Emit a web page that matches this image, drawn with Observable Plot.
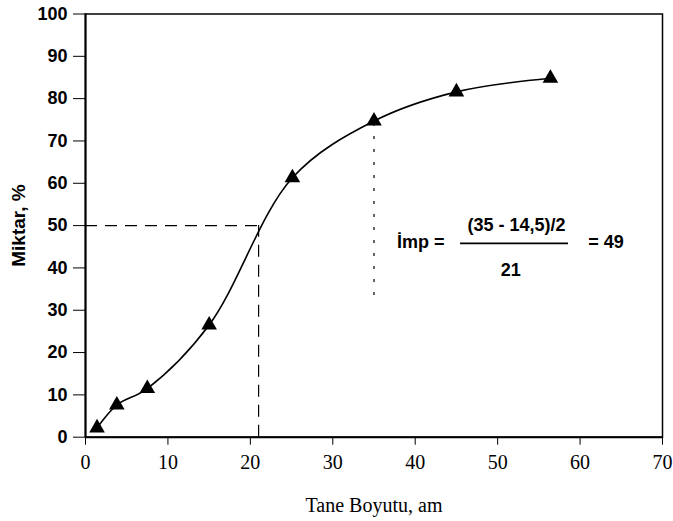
<!DOCTYPE html>
<html><head><meta charset="utf-8">
<script src="https://cdn.jsdelivr.net/npm/d3@7"></script>
<script src="https://cdn.jsdelivr.net/npm/@observablehq/plot@0.6"></script>
<style>
body{margin:0;background:#fff;}
svg{background:#fff;}
</style></head><body><div id="chart"></div>
<script>
// Data
const sizes   = [1.4, 3.8, 7.5, 15.0, 25.1, 35.0, 45.0, 56.4];   // Tane Boyutu, am
const amounts = [2.2, 7.6, 11.5, 26.5, 61.3, 74.7, 81.6, 84.8];  // Miktar, %
const xTicks = [0, 10, 20, 30, 40, 50, 60, 70];
const yTicks = [0, 10, 20, 30, 40, 50, 60, 70, 80, 90, 100];
const xTitle = ["Tane Boyutu, am"];
const yTitle = ["Miktar, %"];
// Guide lines: median (50 %) read at 21 am; dotted line at 35 am
const medianY = [50];
const medianX = [21];
const impX = [35];
const impYRange = [33.5, 75];
// Formula texts
const formulaLeft = ["İmp ="];
const formulaNum = ["(35 - 14,5)/2"];
const formulaDen = ["21"];
const formulaRight = ["= 49"];

const points = sizes.map((x, i) => ({x, y: amounts[i]}));

const sans = "'Liberation Sans', Arial, Helvetica, sans-serif";
const serif = "'Liberation Serif', 'Times New Roman', serif";

const chart = Plot.plot({
  width: 673,
  height: 521,
  marginLeft: 85,
  marginRight: 11,
  marginTop: 13.5,
  marginBottom: 84.3,
  x: {domain: [0, 70]},
  y: {domain: [0, 100]},
  marks: [
    Plot.axisY({ticks: yTicks, tickSize: 12, tickPadding: 6, fontSize: 18, fontWeight: "bold",
      fontFamily: sans, label: null}),
    Plot.axisX({ticks: xTicks, tickSize: 8, tickPadding: 10, fontSize: 20, fontFamily: serif, label: null}),
    Plot.text(yTitle, {frameAnchor: "left", dx: -67, rotate: -90, textAnchor: "middle", lineAnchor: "middle",
      text: d => d, fontSize: 19, fontWeight: "bold", fontFamily: sans, ariaLabel: "y-title"}),
    Plot.text(xTitle, {frameAnchor: "bottom", dy: 68, textAnchor: "middle", lineAnchor: "middle",
      text: d => d, fontSize: 20, fontFamily: serif, ariaLabel: "x-title"}),
    Plot.frame({stroke: "black", strokeWidth: 1.5}),
    Plot.ruleX([0], {stroke: "black", strokeWidth: 2}),
    Plot.ruleY([0], {stroke: "black", strokeWidth: 2}),
    Plot.ruleY(medianY, {x1: 0, x2: medianX[0], stroke: "black", strokeWidth: 1.2, strokeDasharray: "12,8"}),
    Plot.ruleX(medianX, {y1: 0, y2: medianY[0], stroke: "black", strokeWidth: 1.2, strokeDasharray: "12,8"}),
    Plot.ruleX(impX, {y1: impYRange[0], y2: impYRange[1], stroke: "black", strokeWidth: 1.2, strokeDasharray: "3,10"}),
    Plot.line(points, {x: "x", y: "y", curve: "catmull-rom", stroke: "black", strokeWidth: 1.6}),
    Plot.dot(points, {x: "x", y: "y", symbol: "triangle", r: 5.8, fill: "black", stroke: "none"}),
    Plot.text(formulaLeft, {x: 37.8, y: 46, text: d => d, textAnchor: "start", fontSize: 18, fontWeight: "bold", fontFamily: sans, ariaLabel: "formula-left"}),
    Plot.ruleY([45.8], {x1: 45.5, x2: 58.6, stroke: "black", strokeWidth: 1.6}),
    Plot.text(formulaNum, {x: 52.3, y: 50.2, text: d => d, fontSize: 18, fontWeight: "bold", fontFamily: sans, ariaLabel: "formula-num"}),
    Plot.text(formulaDen, {x: 51.6, y: 39.4, text: d => d, fontSize: 18, fontWeight: "bold", fontFamily: sans}),
    Plot.text(formulaRight, {x: 61.0, y: 46, text: d => d, textAnchor: "start", fontSize: 18, fontWeight: "bold", fontFamily: sans, ariaLabel: "formula-right"})
  ]
});
// widen the word gaps as in the scanned original
const spacing = {"x-title": "9px", "formula-num": "5px", "formula-left": "4px", "formula-right": "4px"};
for (const [label, ws] of Object.entries(spacing)) {
  d3.select(chart).selectAll(`g[aria-label="${label}"] text`).style("word-spacing", ws);
}
document.getElementById("chart").appendChild(chart);
</script></body></html>
